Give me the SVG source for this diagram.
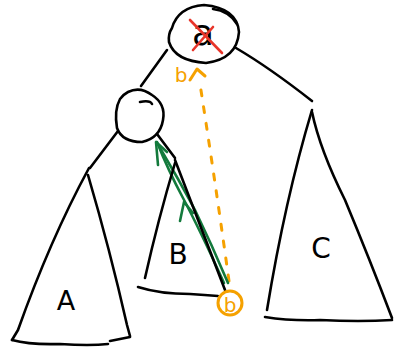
<svg xmlns="http://www.w3.org/2000/svg" width="394" height="354" viewBox="0 0 394 354">
<style>
.k{fill:none;stroke:#000;stroke-width:2.6;stroke-linecap:round;stroke-linejoin:round}
.o{fill:none;stroke:#f5a100;stroke-width:3;stroke-linecap:round;stroke-linejoin:round}
.g{fill:none;stroke:#137a3c;stroke-width:2.6;stroke-linecap:round;stroke-linejoin:round}
.r{fill:none;stroke:#e8352a;stroke-width:2.6;stroke-linecap:round}
.t{font-family:"DejaVu Sans","Liberation Sans",sans-serif;fill:#000}
.to{font-family:"DejaVu Sans","Liberation Sans",sans-serif;fill:#f5a100}
</style>
<rect width="394" height="354" fill="#fff"/>
<g id="connectors">
<path class="k" d="M167 50 L141 86"/>
<path class="k" d="M236 48 Q270 68 312 101"/>
<path class="k" d="M118 131 L90 168"/>
<path class="k" d="M157 134 L175 158"/>
<path class="o" stroke-dasharray="6 11" d="M229 281 Q215 180 200 84"/>
<path class="o" d="M190 80 L197 69 L205 76"/>
<path class="g" d="M224 283 Q200 230 183 198 Q168 170 157 142"/>
<path class="g" d="M228 283 Q212 245 195 210 Q178 178 160 148"/>
<path class="g" d="M156 142 L158 165 M156 142 L167 152"/>
<path class="g" d="M184 202 L180 221 M184 202 L193 213"/>
</g>
<g id="root">
<path class="k" d="M172 28 Q178 7 204 5 Q237 8 239 32 Q237 59 206 63 Q175 61 169 42 Q168 34 172 28"/>
<path class="k" d="M213 9 Q229 11 237 24"/>
<text class="t" x="203" y="45" font-size="36" text-anchor="middle">a</text>
<path class="r" d="M190 20 L222 53 M213 27 L193 50"/>
</g>
<g id="left-node">
<path class="k" d="M128 92 Q140 86 152 95 Q166 104 163 120 Q160 138 142 142 Q122 142 117 128 Q114 110 120 99 Q124 94 128 92"/>
<path class="k" d="M140 102 Q150 100 152 104"/>
</g>
<g id="A">
<path class="k" d="M89 168 Q50 240 18 330 L12 340"/>
<path class="k" d="M88 175 Q110 250 127 325 L130 336"/>
<path class="k" d="M12 340 Q30 345 60 344 Q90 346 108 344"/>
<path class="k" d="M110 341 L130 337"/>
<text class="t" x="66" y="310" font-size="27" text-anchor="middle">A</text>
</g>
<g id="B">
<path class="k" d="M175 163 Q158 220 145 278"/>
<path class="k" d="M175 160 Q200 225 225 290"/>
<path class="k" d="M138 287 Q160 294 190 294 Q205 295 218 296"/>
<text class="t" x="178" y="264" font-size="28" text-anchor="middle">B</text>
</g>
<g id="C">
<path class="k" d="M312 110 Q285 200 267 310"/>
<path class="k" d="M312 112 Q320 150 345 200 Q370 260 392 318"/>
<path class="k" d="M265 317 Q290 321 320 320 Q360 322 392 320"/>
<text class="t" x="321" y="258" font-size="28" text-anchor="middle">C</text>
</g>
<g id="b-node">
<circle class="o" cx="230" cy="303" r="12"/>
<text class="to" x="230" y="312" font-size="20" text-anchor="middle">b</text>
</g>
<g id="b-label">
<text class="to" x="181" y="82" font-size="20" text-anchor="middle">b</text>
</g>
</svg>
